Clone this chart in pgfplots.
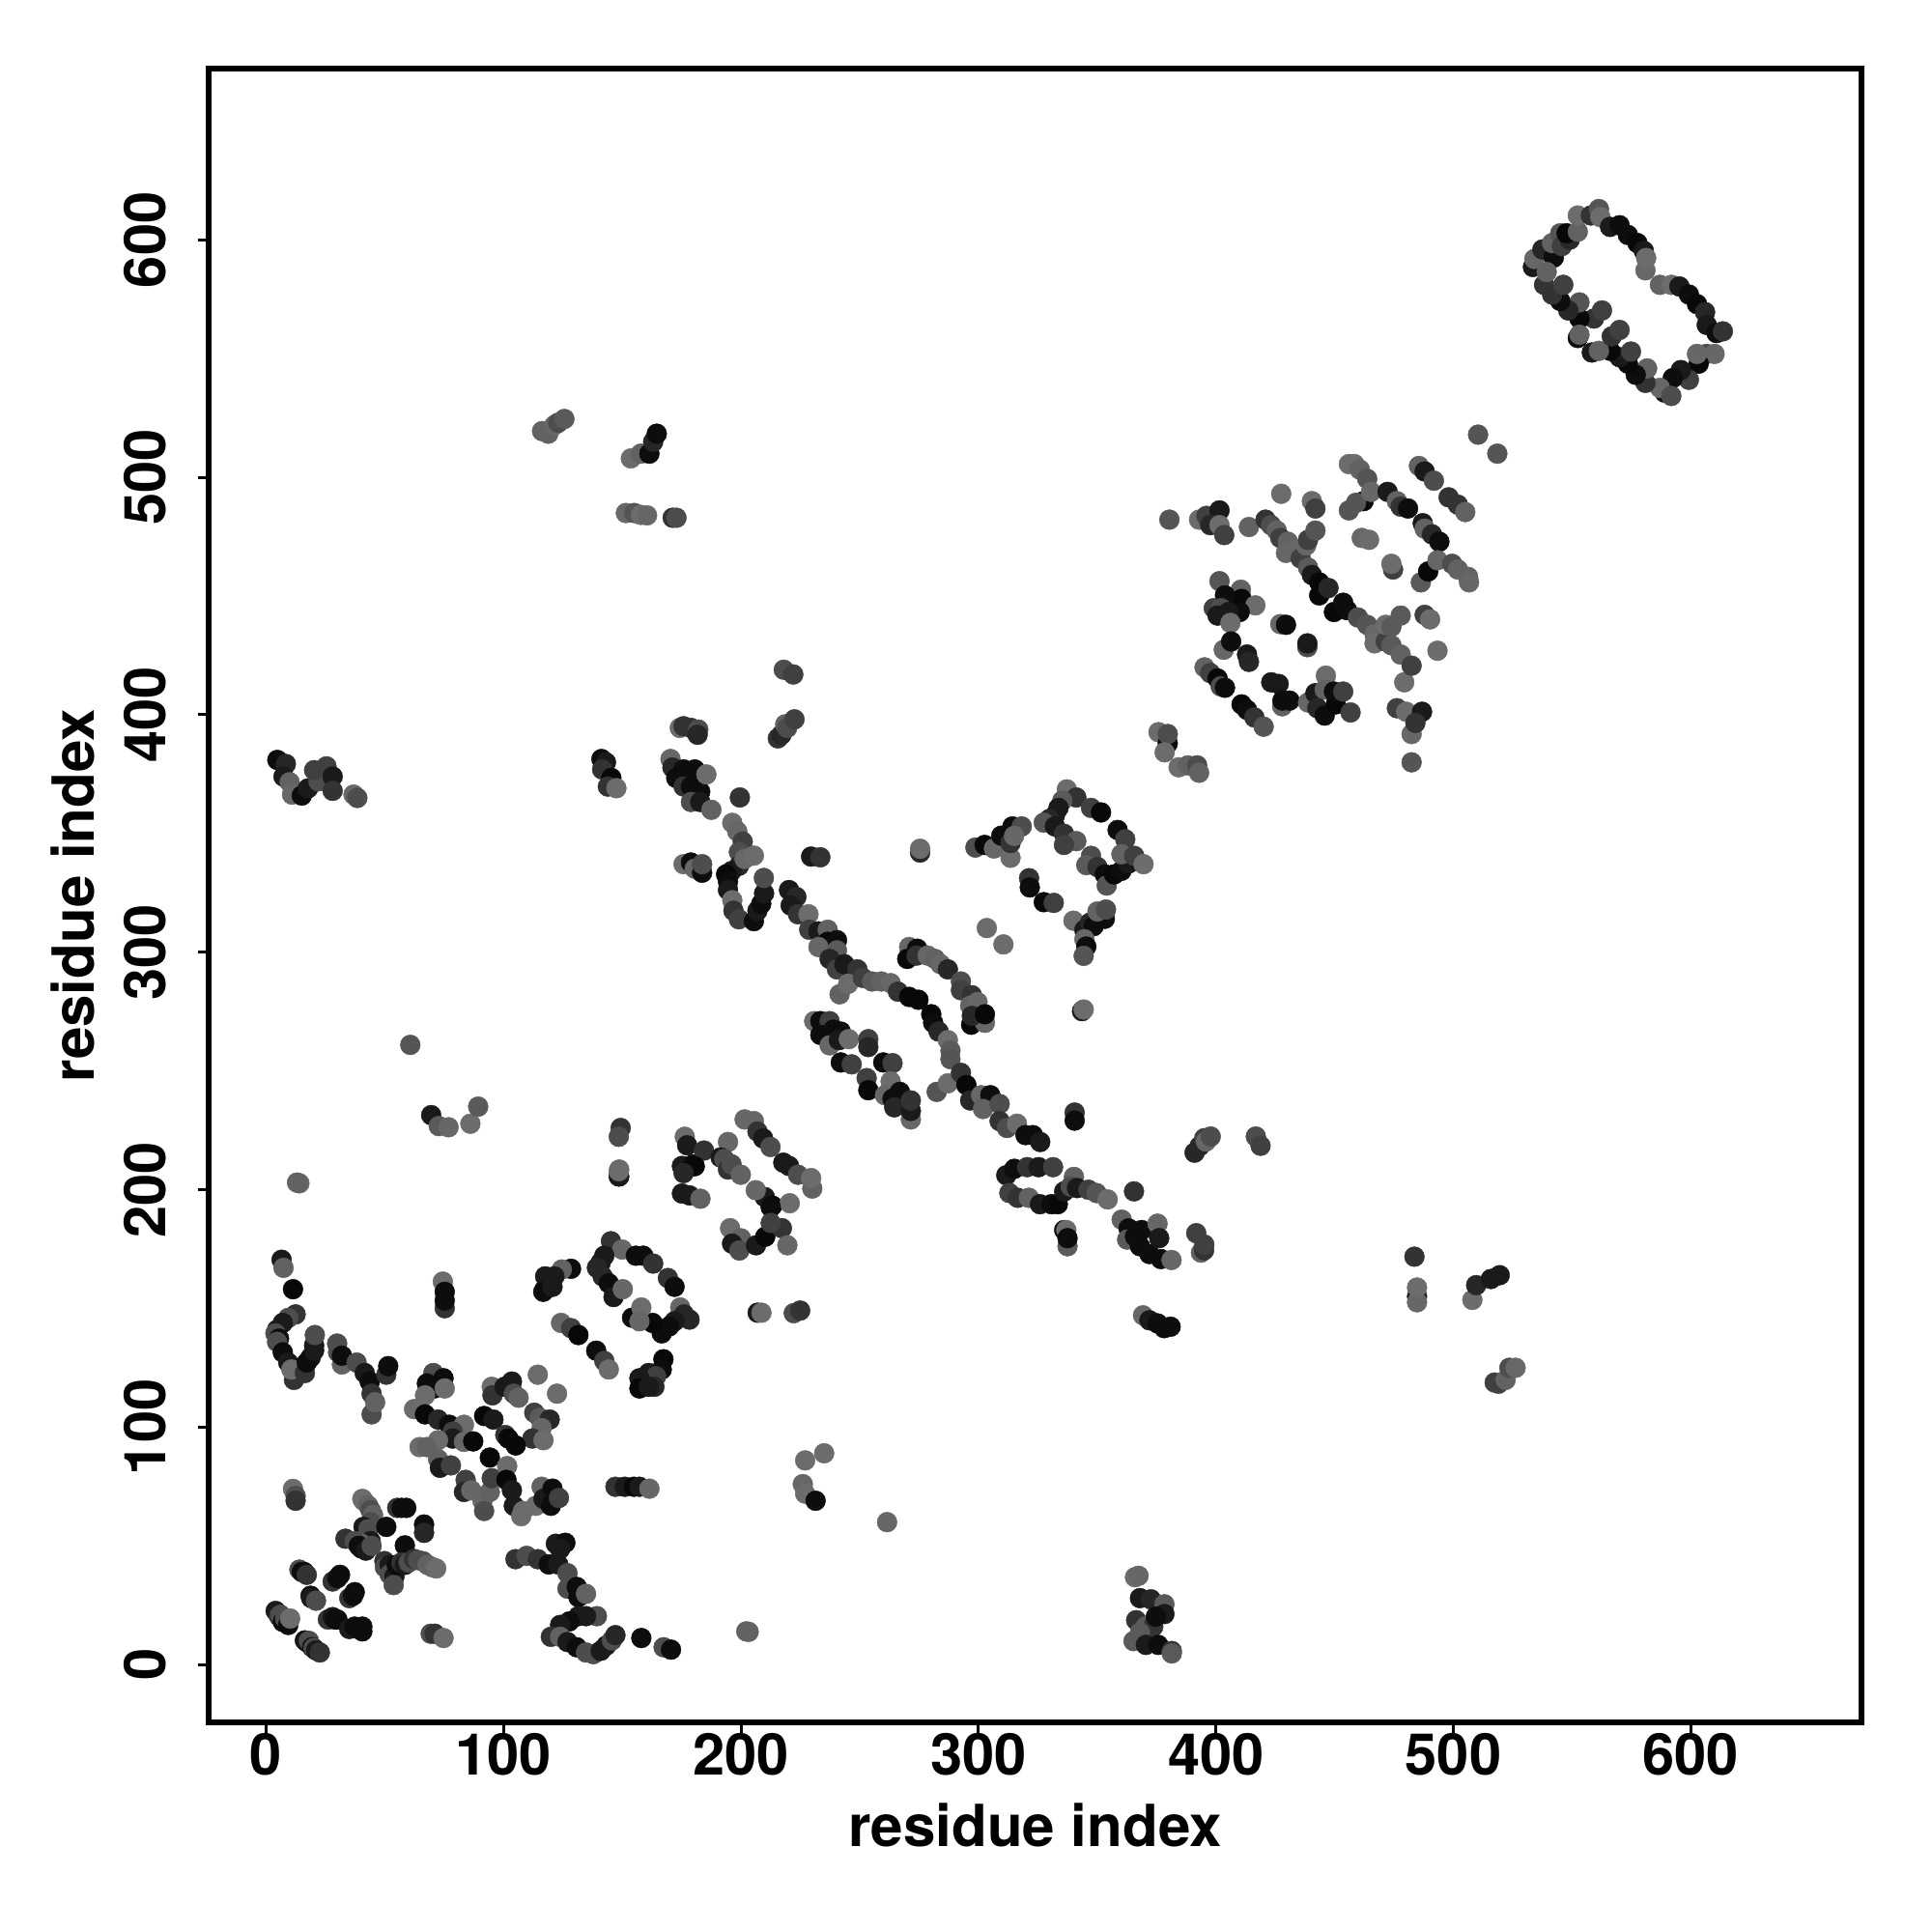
\documentclass[border=0pt]{standalone}
\usepackage{fontspec}
\setmainfont{TeX Gyre Heros}
\usepackage{pgfplots}
\usepackage{pgfplotstable}
\pgfplotsset{compat=1.18}
\pgfplotstableread[row sep=\\]{
x y g\\
4 22.6 .1\\ 5.4 20.4 .2\\ 6 21 .3\\ 7 18 .05\\ 8 19.5 .3\\ 9.3 16.7 .05\\ 10.1 19.4 .42\\
16.3 10.2 .05\\ 17 9.5 .1\\ 18 10 .3\\ 19.4 7.3 .05\\ 20 7 .3\\ 21 6 .1\\ 22.6 5.1 .2\\
14 40 .3\\ 15 39 .05\\ 16 39 .05\\ 17.1 37.8 .2\\ 28 35 .2\\ 30 36.4 .05\\ 31.1 37.8 .05\\
35 28 .2\\ 36.6 29 .05\\ 37.3 30.5 .05\\ 18.7 29 .05\\ 19 28 .1\\ 21 26.9 .3\\
26 19 .2\\ 28 20 .1\\ 29 19 .05\\ 30 19 .05\\ 35 15 .1\\ 37.3 16 .05\\ 39 15 .05\\ 40.5 14 .05\\ 40.5 16 .05\\
69.3 13 .3\\ 71 13 .2\\ 74.7 11.2 .42\\
40.5 69.8 .42\\ 41 69 .42\\ 43 67 .38\\ 44 65 .3\\ 45 63 .38\\ 44 60 .3\\ 41 58 .1\\ 42 55 .05\\ 43 57 .3\\ 42 53 .3\\ 44 52 .1\\ 40 51 .38\\
33.4 53 .2\\ 37.3 52 .3\\ 39 50 .05\\ 40 49 .05\\ 42 48 .1\\ 44.4 50 .3\\
50.6 58 .05\\ 55.2 66 .2\\ 57 66 .05\\ 59 66 .05\\ 66.5 59 .05\\ 66.5 55.5 .15\\ 58.4 50.2 .05\\
49.8 43.6 .2\\ 50 41 .3\\ 52 42 .1\\ 52 38 .3\\ 54 37 .1\\ 53.7 33.5 .3\\ 55 42 .05\\ 57 43 .2\\ 58.4 42 .1\\ 60 43 .3\\ 62.3 44.5 .2\\ 64 44 .3\\ 66.1 43.5 .3\\ 68 42 .38\\ 70 41 .38\\ 71.6 40.5 .42\\
11.3 74 .42\\ 12.4 71 .3\\ 12.4 69 .2\\
105 44.4 .2\\ 109.7 45.8 .3\\ 114.4 44.4 .2\\ 119 42.2 .05\\ 123 42.2 .1\\ 126.9 38.5 .3\\ 126.9 32 .3\\ 130.8 32.7 .05\\ 131.5 28.4 .05\\ 134.7 29.8 .38\\
122 50.9 .1\\ 126 51.3 .05\\ 123.8 48.7 .1\\
139.3 20.4 .3\\ 134.7 20.4 .1\\ 131.5 20.4 .1\\ 127.7 18.2 .05\\ 123.8 16.7 .1\\ 119.9 11.7 .2\\ 123.8 11.7 .38\\ 126.9 9.5 .1\\ 130.8 7.3 .05\\ 134.7 5.1 .3\\ 137.8 4.4 .3\\ 140.9 5.8 .1\\ 143.2 8 .1\\ 145.6 10.2 .3\\ 147.1 12.4 .15\\
158 11.2 .05\\ 167.4 7.3 .3\\ 170.5 6.3 .05\\ 203.2 13.8 .38\\ 202.2 14 .38\\
148.7 205.6 .1\\ 148.7 208.5 .42\\ 148.5 205.6 .1\\ 148.5 207.8 .42\\
6.5 170.5 .1\\ 7.3 167.1 .38\\ 11.3 158.1 .03\\
12.4 147.5 .2\\ 9.3 146 .3\\ 7 143.9 .1\\ 4.6 141 .1\\ 3.9 139.5 .3\\ 5.4 137.3 .05\\ 4.6 135.9 .3\\ 7 131.5 .05\\ 9.3 127.2 .1\\ 11.7 119.9 .2\\ 10.6 124.3 .42\\ 16.3 122.8 .2\\ 17.1 127.2 .05\\ 18.7 129.3 .05\\ 20.2 132.3 .1\\ 20.2 134.4 .1\\ 20.5 138.8 .3\\
29.9 135.2 .3\\ 30.3 131.5 .3\\ 31.9 126.4 .38\\ 31.9 130.1 .05\\ 38.1 127.2 .3\\ 41.5 122.8 .1\\ 43.6 119.2 .05\\ 44.4 114.1 .2\\ 44.4 105.4 .3\\ 45.9 110.5 .38\\ 50.6 122.1 .2\\ 51.4 125.7 .05\\
74.4 161.3 .42\\ 75.2 150.1 .2\\ 75.2 153.3 .05\\ 75.2 157 .05\\
70.4 122.8 .3\\ 67.7 118.4 .05\\ 70.8 116.3 .05\\ 74.7 120.6 .05\\ 75.2 116.3 .42\\ 66.9 113.4 .42\\ 62.3 107.6 .42\\ 66.9 105.4 .03\\ 72.4 103.2 .15\\ 77.1 101 .05\\ 83.3 101 .42\\ 78.6 98.1 .25\\ 78.6 95.2 .1\\ 83.3 93.8 .4\\ 87.2 94 .03\\ 72.4 94.5 .42\\ 64.6 91.6 .42\\ 67.7 91.6 .38\\ 72.4 86.5 .38\\ 73.2 82.9 .1\\ 77.8 83.9 .25\\ 84 77.8 .25\\ 83.3 72.7 .15\\ 86.4 73.4 .4\\ 91.1 69 .4\\ 91.8 64.7 .3\\ 94.2 72.7 .38\\ 95 78.5 .25\\ 94.2 87.2 .03\\ 101.5 83.6 .42\\ 101.2 77.8 .03\\ 103.5 73.4 .1\\ 104.3 66.9 .1\\ 107.4 62.5 .42\\ 108.2 64.7 .42\\ 113.6 66.9 .42\\ 116 74.9 .38\\ 116.8 69.8 .1\\ 120.6 74.1 .05\\ 119.9 66.9 .05\\ 123.3 70.2 .25\\
95 117 .42\\ 95.3 113.4 .2\\ 103.5 119.2 .1\\ 100.4 117 .1\\ 104.3 114.1 .3\\ 106.3 112.4 .38\\ 114.4 122.1 .42\\ 122.5 114.1 .42\\ 91.8 104.7 .03\\ 95.7 103.2 .1\\ 112.9 106.1 .25\\ 115.2 103.9 .35\\ 119.4 103.2 .15\\ 116 99.6 .4\\ 112.1 95.2 .2\\ 116.8 94.5 .42\\ 100.7 96.7 .2\\ 102 95.2 .03\\ 105.1 92.3 .03\\
128.4 166.7 .05\\ 124.5 166.4 .38\\ 121.4 163.5 .1\\ 117.5 163.5 .1\\ 117.5 158.4 .1\\ 116.7 157 .05\\ 120.6 159.1 .1\\
145.2 178.3 .2\\ 149.9 174.8 .4\\ 142.4 172.2 .1\\ 140.9 169.3 .1\\ 139.3 167.1 .15\\ 141.7 163.5 .15\\ 144.3 160.6 .05\\ 146.3 154.8 .1\\ 150.2 158.1 .4\\ 155.7 172.2 .05\\ 158.8 172.2 .05\\ 163 168.9 .2\\ 169.2 162.8 .2\\ 172 159.1 .05\\ 174.4 150.4 .4\\ 176 147.5 .15\\ 178.3 145.3 .15\\ 172 144.6 .1\\ 169.7 142.4 .05\\ 166.6 139.5 .05\\ 162.7 143.9 .03\\ 154.1 146.1 .05\\ 158 150.4 .42\\ 157.2 144.6 .4\\
124.2 143.9 .4\\ 128.4 141.7 .25\\ 131.5 138.8 .03\\ 139 132.2 .05\\ 142.4 127.9 .25\\ 144.3 124.3 .42\\
167.3 128.6 .03\\ 166.6 124.3 .05\\ 161.1 122.8 .1\\ 164.2 121.4 .25\\ 157.2 120.6 .1\\ 157.2 116.3 .03\\ 163.5 117 .15\\ 161.1 117 .1\\
147.1 74.9 .2\\ 151 74.9 .1\\ 154.9 74.9 .03\\ 157.2 74.9 .1\\ 161.4 74.1 .4\\
207 148.2 .1\\ 208.6 148.2 .42\\ 222.2 148 .3\\ 224.9 149.1 .2\\
175.1 210 .1\\ 179.8 210.7 .05\\ 175.1 198.4 .1\\ 178.3 197.6 .1\\ 182.9 196.2 .38\\
176.3 222.3 .42\\ 177.3 218.7 .1\\ 184.4 216.5 .2\\ 180.5 209.9 .03\\ 175.8 207 .15\\ 194.5 220.1 .4\\
191.4 213.6 .1\\ 192.9 212.9 .3\\ 194.5 208.5 .2\\ 196 210.7 .3\\ 199.9 206.3 .38\\
210 196.9 .1\\ 206.2 199.8 .4\\ 213.2 193.3 .03\\ 220.5 194.3 .42\\
201.5 229.6 .4\\ 205.4 228.9 .4\\ 206.9 224.5 .2\\ 209.3 221.6 .1\\ 212.4 218 .3\\ 217.8 211.4 .1\\ 220.2 210 .1\\ 224 206.3 .3\\ 230 200.5 .38\\ 229.5 204.9 .42\\
195.4 183.8 .42\\ 200 179.5 .38\\ 196.2 177.3 .1\\ 199.3 174.4 .3\\ 206.3 176.6 .1\\ 210.2 180.2 .03\\ 212.5 192.6 .05\\ 217.2 183.8 .2\\ 219.5 176.6 .4\\ 212.5 186 .25\\
141.2 381.4 .05\\ 143.1 380 .1\\ 141.5 377 .2\\ 145.4 373.4 .03\\ 143.9 369.8 .2\\ 147.5 369.1 .42\\
170.3 381.4 .4\\ 171.1 377.8 .15\\ 172.7 373.4 .05\\ 175.8 377 .05\\ 180.5 377 .05\\ 175.8 369.8 .2\\ 178.9 369.8 .05\\ 182.8 367.6 .05\\ 178.9 363.3 .3\\ 182.8 363.3 .1\\ 185.4 374.9 .42\\ 187.5 360 .38\\
174.2 394.5 .42\\ 175.8 395.2 .2\\ 178.9 394.5 .2\\ 182 393.8 .3\\ 181.7 391.6 .15\\
215.5 390.1 .2\\ 217 391.6 .15\\ 218.6 396 .38\\ 219.4 394.5 .3\\ 222.5 398.1 .25\\ 218 419 .3\\ 222 417 .25\\
199.5 365.2 .2\\
196.3 354.5 .42\\ 198.4 350.9 .4\\ 200.7 346.6 .25\\ 199.1 342.2 .3\\ 199.1 336.4 .15\\ 196 334.2 .1\\ 193.7 332.8 .03\\ 194.5 329.8 .05\\ 194.5 326.2 .1\\ 201.5 339.3 .4\\ 205.4 340.7 .42\\ 196.3 321.9 .42\\ 196.8 317.5 .2\\ 199.1 313.9 .25\\ 205.4 313.1 .05\\ 206.9 317.5 .1\\ 208.5 320.4 .05\\ 209.7 324.8 .1\\ 209.6 331.3 .3\\
175.8 337.1 .42\\ 178.9 337.8 .05\\ 180.5 335.2 .4\\ 183.6 333.5 .05\\ 183.6 337.1 .3\\
229.5 340.3 .1\\ 233.4 340 .2\\ 275.4 342 .15\\ 275.4 343.6 .42\\
220.2 326.2 .1\\ 223.3 323.3 .15\\ 220.9 319.7 .1\\ 224 316 .2\\ 228.4 316 .42\\ 228.7 309.5 .25\\ 232.6 308.8 .1\\ 236.5 309.5 .38\\ 236.5 304.4 .03\\ 240.4 305.1 .05\\ 232.6 302.2 .4\\ 240.4 300.8 .35\\ 237.3 297.2 .15\\ 240.4 292.8 .25\\ 243.5 295 .1\\ 249 292.8 .2\\ 241.5 282.3 .38\\ 245.1 286.7 .42\\ 251.3 289.2 .25\\ 255.2 287.7 .35\\ 259.1 287.7 .38\\ 263 287 .4\\ 266.1 283.4 .2\\ 270.8 281.2 .03\\ 274.7 280 .03\\
280.1 273.9 .03\\ 280.9 270.3 .05\\ 283.2 266.6 .15\\ 287.1 263 .42\\ 288.2 258.6 .35\\ 288.2 255 .33\\ 282.4 241.2 .33\\ 287.1 244.8 .42\\ 292.6 249.2 .2\\ 294.9 244.1 .03\\ 296.5 237.6 .15\\ 301.1 239.8 .4\\ 305 239.8 .05\\ 301.9 234 .38\\ 308.9 236.1 .3\\ 308.9 228.9 .2\\ 312 226 .3\\ 316.2 227.8 .42\\ 319.8 223 .05\\ 322.9 223 .05\\ 326 220.1 .1\\
270.8 302.2 .4\\ 274.2 301.5 .05\\ 270 297.2 .03\\ 273.9 298.6 .2\\ 278.6 298.6 .4\\ 281.7 297.2 .38\\ 284 295 .4\\ 287.1 292.8 .15\\ 292.6 287.7 .3\\ 292.6 284 .25\\ 297.2 281.9 .2\\ 296.5 277.5 .38\\ 299.6 279 .4\\ 296.9 269.5 .03\\ 302.7 270.3 .4\\ 297.2 273.2 .15\\ 302.7 273.9 .03\\
303.5 310.2 .42\\ 310.5 303.3 .42\\
230.8 271 .42\\ 233.4 271 .05\\ 237.3 271 .25\\ 233.4 265.2 .05\\ 238.9 267.4 .05\\ 242 266.6 .05\\ 237.3 260.8 .4\\ 241.2 263 .1\\ 245.4 263.4 .42\\ 253.6 263.4 .25\\ 253.6 260.1 .15\\ 242 253.6 .05\\ 246.6 252.8 .25\\ 259.9 253.6 .05\\ 263.8 253.3 .25\\ 252.9 247 .25\\ 253.6 241.9 .03\\ 263 245.6 .42\\ 260.6 239.8 .4\\ 263.8 238.3 .05\\ 266.9 241.2 .05\\ 264.5 234.7 .15\\ 271.5 229.6 .4\\ 271.5 233.2 .1\\ 271.5 237.6 .2\\
149.3 226 .2\\ 148.5 222.3 .3\\
298.7 344.1 .3\\ 302.6 345.2 .03\\ 306.5 343.7 .4\\ 313.5 339.8 .42\\ 309.6 349.1 .05\\ 313.5 346 .2\\ 314.3 353 .05\\ 318.2 353 .3\\ 315 349 .4\\
321.3 331.2 .2\\ 321.6 327.3 .05\\ 327.5 321.1 .03\\ 331.7 320.8 .25\\
340 313.3 .42\\ 344.6 309.4 .1\\ 347 312.5 .15\\ 348.5 311 .05\\ 353.2 314.1 .05\\ 350.1 317.2 .38\\ 353.7 318 .3\\ 344.6 305.5 .4\\ 345.4 302.4 .05\\ 344.3 298.5 .33\\
337.2 368.6 .42\\ 341.2 365.2 .2\\ 335.3 363.9 .35\\ 333.7 360.8 .1\\ 332.2 357.7 .1\\ 329.8 356.1 .15\\ 327.5 354.6 .33\\ 332.2 353 .1\\ 336 349.9 .2\\ 341.2 346.8 .35\\ 336 345.2 .25\\ 347.4 360.8 .25\\ 351.6 358.9 .03\\ 358.6 351.5 .05\\ 361.8 347.6 .25\\ 347.4 340.6 .3\\ 345.4 336.7 .35\\ 350.1 335.9 .2\\ 353.2 332.8 .05\\ 354 328.1 .33\\ 357.1 332.8 .03\\ 360.2 334.3 .05\\ 363.3 337.4 .1\\ 360.2 341.3 .38\\ 365.6 340.6 .25\\ 369.5 337.1 .42\\
375.8 392.7 .42\\ 379.7 388 .05\\ 379.7 391.9 .3\\ 378.4 384.2 .42\\ 384.3 377.9 .42\\ 388.2 378.7 .38\\ 392.1 378.7 .3\\ 392.9 375.6 .38\\
380.4 482.2 .33\\ 392.9 482.2 .42\\ 396 483.8 .25\\ 401.5 486.1 .1\\ 397.6 479.9 .15\\ 401.5 479.9 .42\\ 403.5 475.7 .25\\
427.5 493.1 .42\\ 440.4 490 .42\\ 441.9 486.9 .25\\ 413.9 479.1 .38\\
420.9 482.2 .2\\ 423.2 479.9 .3\\ 425.6 477.6 .38\\ 427.1 474.5 .25\\ 430.3 472.9 .38\\ 429.5 468.2 .4\\ 433.4 469.8 .4\\ 435.7 465.9 .25\\ 438.8 462 .35\\ 440.4 458.9 .1\\ 443.5 450.3 .03\\ 443.5 455.8 .03\\ 447.4 453.4 .15\\
438 471.3 .4\\ 438.8 473.7 .25\\ 441.9 477.6 .33\\
449.7 443.3 .03\\ 453.6 447.2 .05\\ 455.2 444.1 .05\\ 459.8 441 .3\\ 463.7 437.9 .33\\ 466.8 434 .4\\ 466.8 430.1 .42\\ 471.5 430.9 .25\\ 473.9 429.3 .35\\ 477.8 425.4 .38\\ 479.3 413.7 .42\\ 482.4 420.7 .25\\ 471.5 437.9 .42\\ 473.9 437.1 .35\\ 477.8 441.8 .35\\ 487.9 442.1 .25\\ 490.2 440.2 .42\\ 493.3 427 .42\\
462.2 490 .03\\ 459 489.3 .33\\ 456 486.1 .33\\ 456 505.6 .42\\ 458.3 505.6 .42\\ 460.6 503.3 .38\\ 463.7 499.4 .33\\ 465.3 493.9 .4\\ 472.3 493.9 .1\\ 476.2 490 .38\\ 477.8 487.7 .2\\ 480.9 486.9 .05\\
485.5 504.8 .38\\ 487.9 502.5 .1\\ 491.8 498.6 .3\\ 498 491.6 .2\\ 501.9 488.5 .2\\ 505 485.4 .38\\
487.1 480.7 .1\\ 487.9 478.4 .38\\ 491 476 .15\\ 494.1 472.9 .05\\ 486.3 455.8 .35\\ 489.4 460.4 .03\\ 493.3 465.1 .4\\ 499.5 463.6 .3\\ 501.9 461.2 .38\\ 506.2 458.1 .38\\ 506.6 455.8 .4\\
510.4 518 .33\\ 518.5 510 .33\\
461.4 474.5 .4\\ 464.5 473.7 .42\\ 474.6 461.2 .25\\ 473.9 463.6 .42\\
401.5 456.3 .33\\ 410.5 452.7 .38\\ 410.8 448.8 .03\\ 416.6 446.1 .42\\ 403.8 450.3 .05\\ 399.1 444.9 .25\\ 402.2 444.9 .3\\ 410 443.3 .05\\ 400.7 441.8 .1\\ 405.3 443.3 .1\\ 406.1 438.7 .42\\
427.1 438.2 .4\\ 429.5 437.9 .05\\ 438.5 428.5 .3\\ 438.5 430.1 .1\\
403.3 427.4 .4\\ 406.4 430.9 .05\\ 413.1 425.4 .1\\ 413.9 422.3 .15\\
395.2 420 .38\\ 397.6 417.6 .25\\ 400.7 415.3 .03\\ 402 412 .3\\ 403.8 411.4 .05\\ 410.8 404.4 .03\\ 413.1 402.1 .05\\ 416.2 398.9 .2\\ 420.1 395 .33\\
423.3 413.7 .1\\ 426.4 413 .1\\ 427.9 403.6 .38\\ 428 406 .05\\ 431 406 .05\\
438.8 405.2 .4\\ 441.9 409.1 .1\\ 446.3 416.5 .42\\ 445.8 410.6 .38\\ 442.7 402.8 .15\\ 445.8 399.7 .05\\ 450.5 404.4 .03\\ 449.7 409.8 .05\\ 453.6 409.8 .25\\ 456.7 401 .25\\
476.2 402.8 .25\\ 480.1 401.3 .42\\ 486.8 401.3 .1\\ 482.4 391.9 .4\\ 484 396.6 .2\\ 482.4 380 .33\\
533.5 588.6 .1\\ 534.1 592 .4\\ 537.5 596 .15\\ 542.3 592.6 .05\\ 541.6 598.7 .38\\ 545 602.8 .33\\ 545.7 597.4 .25\\ 549 600.1 .15\\ 547.7 602.8 .03\\ 552.4 603.5 .38\\ 552.4 610.3 .42\\ 557.9 610.3 .2\\ 561.3 613 .33\\ 561.9 609.6 .42\\ 566 605.5 .1\\ 570 606.2 .05\\ 573.5 602.1 .05\\ 577.5 598.7 .03\\ 580.2 595.4 .1\\ 580.9 587.2 .4\\ 581.2 592.4 .42\\
587 581.1 .38\\ 591.8 581.1 .42\\ 595.2 580.4 .1\\ 599.2 577 .05\\ 602.6 573 .03\\ 606 569.6 .15\\ 606.7 564.2 .1\\ 610.8 560.8 .05\\ 613.5 561.5 .2\\
606.7 552 .3\\ 610 552 .4\\ 603.3 547.9 .03\\ 602.6 552 .4\\ 599.2 541.1 .25\\ 595.8 545.2 .1\\ 592.4 541.8 .05\\ 589 535.7 .05\\ 587 537.7 .4\\ 591.8 534.3 .3\\
580.9 539.8 .2\\ 581.6 545.9 .38\\ 576.8 543.2 .05\\ 573.5 547.9 .03\\ 570 550.6 .1\\ 574.8 553 .25\\ 566 553.3 .03\\ 558.3 552.6 .1\\ 561.3 553.3 .38\\ 566.7 559.4 .2\\ 570 562.1 .25\\
559.2 566.9 .2\\ 562.6 570.3 .25\\ 553.1 566.9 .03\\ 553.1 573.7 .33\\ 552.4 558.7 .05\\ 553.1 560.1 .38\\ 548.4 570.3 .15\\ 545 574.3 .05\\ 541.6 577 .2\\ 538.2 581.1 .2\\ 546.3 581.1 .25\\ 539.3 586.5 .38\\
369.3 147.1 .4\\ 372 145 .1\\ 375.4 143.7 .05\\ 378.2 141.7 .05\\ 380.9 142.3 .05\\
340.5 232.5 .2\\ 340.5 229.1 .05\\
391 215.6 .15\\ 393.1 218.3 .15\\ 395.1 221.7 .25\\ 395.8 220.3 .4\\ 397.8 222.4 .3\\ 416.8 222.4 .3\\ 418.8 218.5 .25\\
311.7 206.1 .1\\ 315.1 208.8 .05\\ 320.5 209.5 .2\\ 325.3 209.5 .1\\ 331.4 209.5 .25\\
313 198.6 .25\\ 316.5 196.6 .2\\ 321.2 196.6 .38\\ 325.9 193.9 .1\\ 330.7 193.9 .05\\ 333.4 193.9 .03\\ 336.1 199.3 .1\\ 340.2 205.4 .38\\ 338.8 201.3 .3\\ 341.5 200.7 .1\\ 346.3 200 .25\\ 349.7 198.6 .33\\ 354.4 195.9 .42\\ 365.5 199.3 .2\\
360.3 187.4 .38\\ 363.2 183.7 .05\\ 362.6 179 .35\\ 365.9 180.3 .05\\ 368.7 183 .05\\ 368 176.2 .05\\ 372 172.9 .05\\ 375.4 185.7 .4\\ 376.1 179.6 .1\\ 376.8 170.8 .05\\ 381.3 170.4 .4\\
336.1 183 .05\\ 337 183 .42\\ 337.5 176.2 .35\\ 337.5 179.6 .05\\
391.7 181.7 .25\\ 393.7 173.5 .38\\ 395 174.5 .2\\ 395.1 176.9 .25\\
343.6 275.2 .1\\ 344.3 275.9 .42\\
60.7 261 .33\\ 69.5 231.4 .1\\ 72.7 226.8 .35\\ 76.8 226.3 .4\\ 86 227.8 .42\\ 89.3 235 .35\\ 14 202.7 .4\\ 13 203 .38\\
227 86 .42\\ 235 89 .42\\ 226 76 .4\\ 227 72 .42\\ 231.4 69 .05\\ 261.5 60 .4\\
483.6 171.8 .2\\ 484.7 155 .1\\ 484.7 152.6 .4\\ 484.7 158.8 .42\\ 508 153.6 .42\\ 509.6 159.8 .15\\ 515.8 162.4 .1\\ 519.5 164 .1\\
517.4 118.8 .25\\ 519 118.3 .25\\ 522 119.9 .38\\ 523.6 125 .3\\ 526.2 125 .4\\
116.2 519.5 .38\\ 118.8 518.4 .38\\ 121.4 522 .4\\ 123 523 .3\\ 125.6 524.6 .35\\
153.6 508 .42\\ 157.8 510 .38\\ 161.4 510 .05\\ 163 515 .15\\ 164.5 518.4 .05\\
151.5 485 .4\\ 155 485 .33\\ 157.8 484.2 .42\\ 160.4 484 .4\\ 171.2 483 .2\\ 172.8 483 .3\\
4.7 381 .05\\ 8.3 379.3 .15\\ 7.3 374 .1\\ 9.9 371.6 .38\\ 10.9 366.4 .4\\ 15 366 .05\\ 17.6 369 .1\\ 22 372 .3\\ 20.2 376.7 .25\\ 25.4 378.3 .25\\ 28 374 .1\\ 28 368 .2\\ 36.8 366.4 .4\\ 38.4 365 .3\\
365.9 36.8 .42\\ 367.4 37.4 .4\\ 368 28 .1\\ 372.6 27.5 .15\\ 378.3 25.4 .35\\ 378.3 21.3 .1\\ 366.4 18.7 .2\\ 370.5 16.1 .35\\ 373.6 16 .2\\ 374.7 20.2 .05\\ 368 13.5 .35\\ 365.3 9.9 .35\\ 370.5 8.3 .1\\ 375.7 8.3 .05\\ 381.4 5.7 .2\\ 381.4 4.7 .35\\
}\contacts
\begin{document}
\begin{tikzpicture}
\useasboundingbox (-1.69cm,-1.70cm) rectangle (13.99cm,13.98cm);
\begin{axis}[
  at={(0,0)}, anchor=south west,
  scale only axis, width=13.42cm, height=13.42cm,
  xmin=-24.4, xmax=672, ymin=-24.4, ymax=672,
  xtick={0,100,...,600}, ytick={0,100,...,600},
  tick align=outside, tick pos=left,
  major tick length=0.085cm,
  every tick/.style={black, line width=0.67pt},
  axis line style={line width=1.35pt},
  /pgf/number format/assume math mode=true,
  tick label style={font=\fontsize{13.3}{15}\selectfont\bfseries},
  label style={font=\fontsize{13.4}{15}\selectfont\bfseries},
  xticklabel style={anchor=north, yshift=0.12cm},
  yticklabel style={rotate=90, anchor=south, yshift=0.13cm},
  xlabel={residue index}, ylabel={residue index},
  xlabel style={at={(axis description cs:0.5,0)}, anchor=north, yshift=-0.53cm},
  ylabel style={at={(axis description cs:0,0.5)}, anchor=south, rotate=0, yshift=0.8cm},
  colormap={gr}{gray=(0) gray=(1)},
  point meta min=0, point meta max=1,
  scatter/use mapped color={draw=mapped color, fill=mapped color},
]
\addplot[scatter, only marks, mark=*, mark size=2.3pt, mark options={line width=0.1pt}, scatter src=explicit]
  table[x=x, y=y, meta=g] {\contacts};
\end{axis}
\end{tikzpicture}
\end{document}
